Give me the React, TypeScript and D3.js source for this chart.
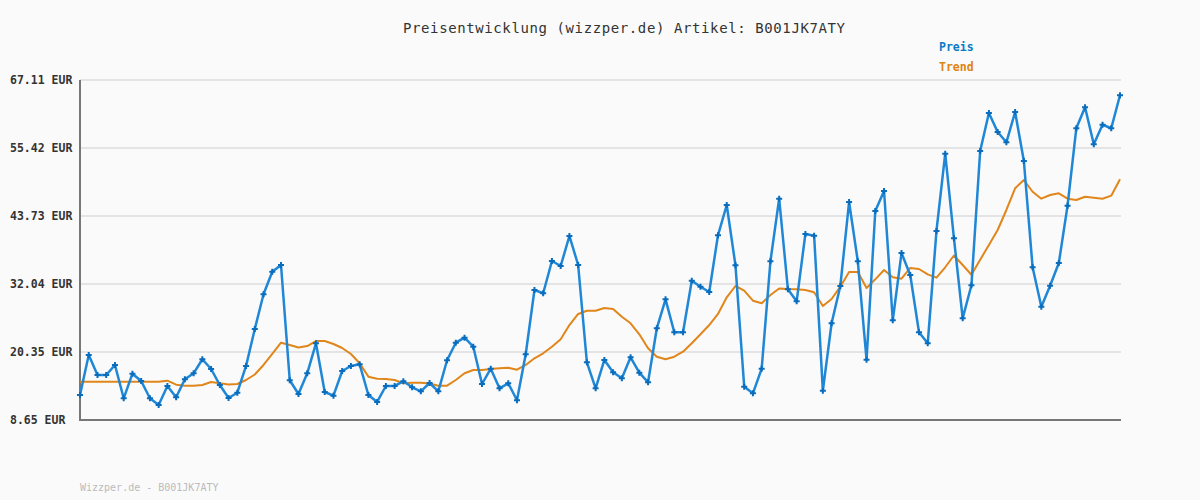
import React, { useEffect, useRef } from "react";
import * as d3 from "d3";

const title = "Preisentwicklung (wizzper.de) Artikel: B001JK7ATY";
const footer = "Wizzper.de - B001JK7ATY";
const yTicks = [8.65, 20.35, 32.04, 43.73, 55.42, 67.11];
const legendLabels = ["Preis", "Trend"];

const preis = [
  12.95, 19.83, 16.39, 16.39, 18.11, 12.38, 16.61, 15.36, 12.38, 11.23,
  14.5, 12.55, 15.65, 16.68, 19.09, 17.42, 14.67, 12.43, 13.34, 17.94,
  24.3, 30.26, 34.15, 35.3, 15.48, 13.12, 16.68, 21.84, 13.46, 12.83,
  17.08, 17.94, 18.23, 12.95, 11.75, 14.5, 14.5, 15.3, 14.27, 13.58,
  15.01, 13.58, 18.92, 21.94, 22.8, 21.25, 14.84, 17.47, 14.1, 14.96,
  12.04, 19.95, 31.0, 30.44, 35.99, 35.13, 40.29, 35.3, 18.57, 14.1,
  18.97, 16.85, 15.82, 19.43, 16.78, 15.13, 24.42, 29.4, 23.73, 23.73,
  32.6, 31.57, 30.66, 40.41, 45.62, 35.25, 14.38, 13.24, 17.47, 35.94,
  46.7, 31.12, 29.06, 40.63, 40.34, 13.69, 25.28, 31.69, 46.13, 35.94,
  19.02, 44.59, 48.02, 25.79, 37.36, 33.58, 23.73, 21.84, 41.15, 54.44,
  39.89, 26.14, 31.81, 54.9, 61.44, 58.17, 56.4, 61.61, 53.18, 34.91,
  28.13, 31.74, 35.64, 45.5, 58.81, 62.42, 56.05, 59.42, 58.81, 64.48,
];

const trend = [
  15.24, 15.24, 15.24, 15.24, 15.24, 15.24, 15.24, 15.24, 15.24, 15.24,
  15.41, 14.72, 14.55, 14.55, 14.67, 15.18, 14.96, 14.75, 14.84, 15.53,
  16.47, 18.11, 20.0, 21.94, 21.55, 21.12, 21.37, 22.23, 22.23, 21.72,
  21.03, 20.0, 18.4, 16.1, 15.75, 15.7, 15.53, 14.96, 15.06, 15.06,
  14.93, 14.55, 14.55, 15.53, 16.68, 17.25, 17.25, 17.42, 17.54, 17.64,
  17.3, 18.11, 19.26, 20.12, 21.25, 22.53, 24.98, 26.88, 27.44, 27.44,
  27.91, 27.74, 26.41, 25.28, 23.39, 20.98, 19.53, 19.09, 19.53, 20.39,
  21.84, 23.39, 24.98, 26.88, 29.75, 31.69, 30.88, 29.16, 28.72, 30.14,
  31.26, 31.17, 31.12, 31.0, 30.61, 28.25, 29.45, 31.57, 34.1, 34.1,
  31.35, 32.84, 34.44, 33.19, 32.95, 34.79, 34.61, 33.7, 33.12, 34.91,
  36.93, 35.3, 33.63, 36.21, 38.74, 41.32, 44.76, 48.49, 49.92, 47.9,
  46.7, 47.34, 47.63, 46.7, 46.48, 47.04, 46.87, 46.7, 47.22, 50.04,
];

const W = 1200;
const H = 500;
const mono = "'DejaVu Sans Mono', 'Liberation Mono', monospace";

export default function App() {
  const ref = useRef<SVGSVGElement>(null);

  useEffect(() => {
    document.body.style.margin = "0";
    const svg = d3.select(ref.current);
    svg.selectAll("*").remove();

    const x = d3.scaleLinear().domain([0, preis.length - 1]).range([80, 1120]);
    const y = d3.scaleLinear().domain([8.65, 67.11]).range([420, 80]);

    svg.append("rect").attr("width", W).attr("height", H).attr("fill", "#fafafa");

    svg
      .append("text")
      .attr("x", 624)
      .attr("y", 33)
      .attr("text-anchor", "middle")
      .attr("font-family", mono)
      .attr("font-size", 14)
      .attr("textLength", 442)
      .attr("fill", "#333")
      .text(title);

    // gridlines
    svg
      .append("g")
      .selectAll("line")
      .data(yTicks.slice(1))
      .join("line")
      .attr("x1", 80)
      .attr("x2", 1121)
      .attr("y1", (d) => y(d))
      .attr("y2", (d) => y(d))
      .attr("stroke", "#e4e4e4")
      .attr("stroke-width", 2);

    // y labels
    svg
      .append("g")
      .selectAll("text")
      .data(yTicks)
      .join("text")
      .attr("x", 10)
      .attr("y", (d) => y(d) + 4)
      .attr("font-family", mono)
      .attr("font-size", 11.5)
      .attr("font-weight", "bold")
      .attr("fill", "#333")
      .text((d) => d.toFixed(2) + " EUR");

    // axes
    svg
      .append("line")
      .attr("x1", 80)
      .attr("x2", 80)
      .attr("y1", 80)
      .attr("y2", 421)
      .attr("stroke", "#777")
      .attr("stroke-width", 2);
    svg
      .append("line")
      .attr("x1", 79)
      .attr("x2", 1121)
      .attr("y1", 420)
      .attr("y2", 420)
      .attr("stroke", "#777")
      .attr("stroke-width", 2);

    const line = d3
      .line<number>()
      .x((_, i) => x(i))
      .y((d) => y(d));

    svg
      .append("path")
      .attr("d", line(trend) as string)
      .attr("fill", "none")
      .attr("stroke", "#e0861a")
      .attr("stroke-width", 2)
      .attr("stroke-linejoin", "round");

    svg
      .append("path")
      .attr("d", line(preis) as string)
      .attr("fill", "none")
      .attr("stroke", "#1f87d6")
      .attr("stroke-width", 2.5)
      .attr("stroke-linejoin", "round");

    const sym = d3.symbol().type(d3.symbolCross).size(20);
    svg
      .append("g")
      .selectAll("path")
      .data(preis)
      .join("path")
      .attr("transform", (d, i) => `translate(${x(i)},${y(d)})`)
      .attr("d", sym() as string)
      .attr("fill", "#0a6cbc");

    // legend
    const legendColors = ["#0a7ac8", "#e0820f"];
    svg
      .append("g")
      .selectAll("text")
      .data(legendLabels)
      .join("text")
      .attr("x", 939)
      .attr("y", (_, i) => 51 + i * 20)
      .attr("font-family", mono)
      .attr("font-size", 11.5)
      .attr("font-weight", "bold")
      .attr("fill", (_, i) => legendColors[i])
      .text((d) => d);

    svg
      .append("text")
      .attr("x", 80)
      .attr("y", 491)
      .attr("font-family", mono)
      .attr("font-size", 10)
      .attr("fill", "#bbb")
      .text(footer);
  }, []);

  return (
    <div style={{ position: "absolute", left: 0, top: 0 }}>
      <svg ref={ref} width={W} height={H} style={{ display: "block" }} />
    </div>
  );
}
